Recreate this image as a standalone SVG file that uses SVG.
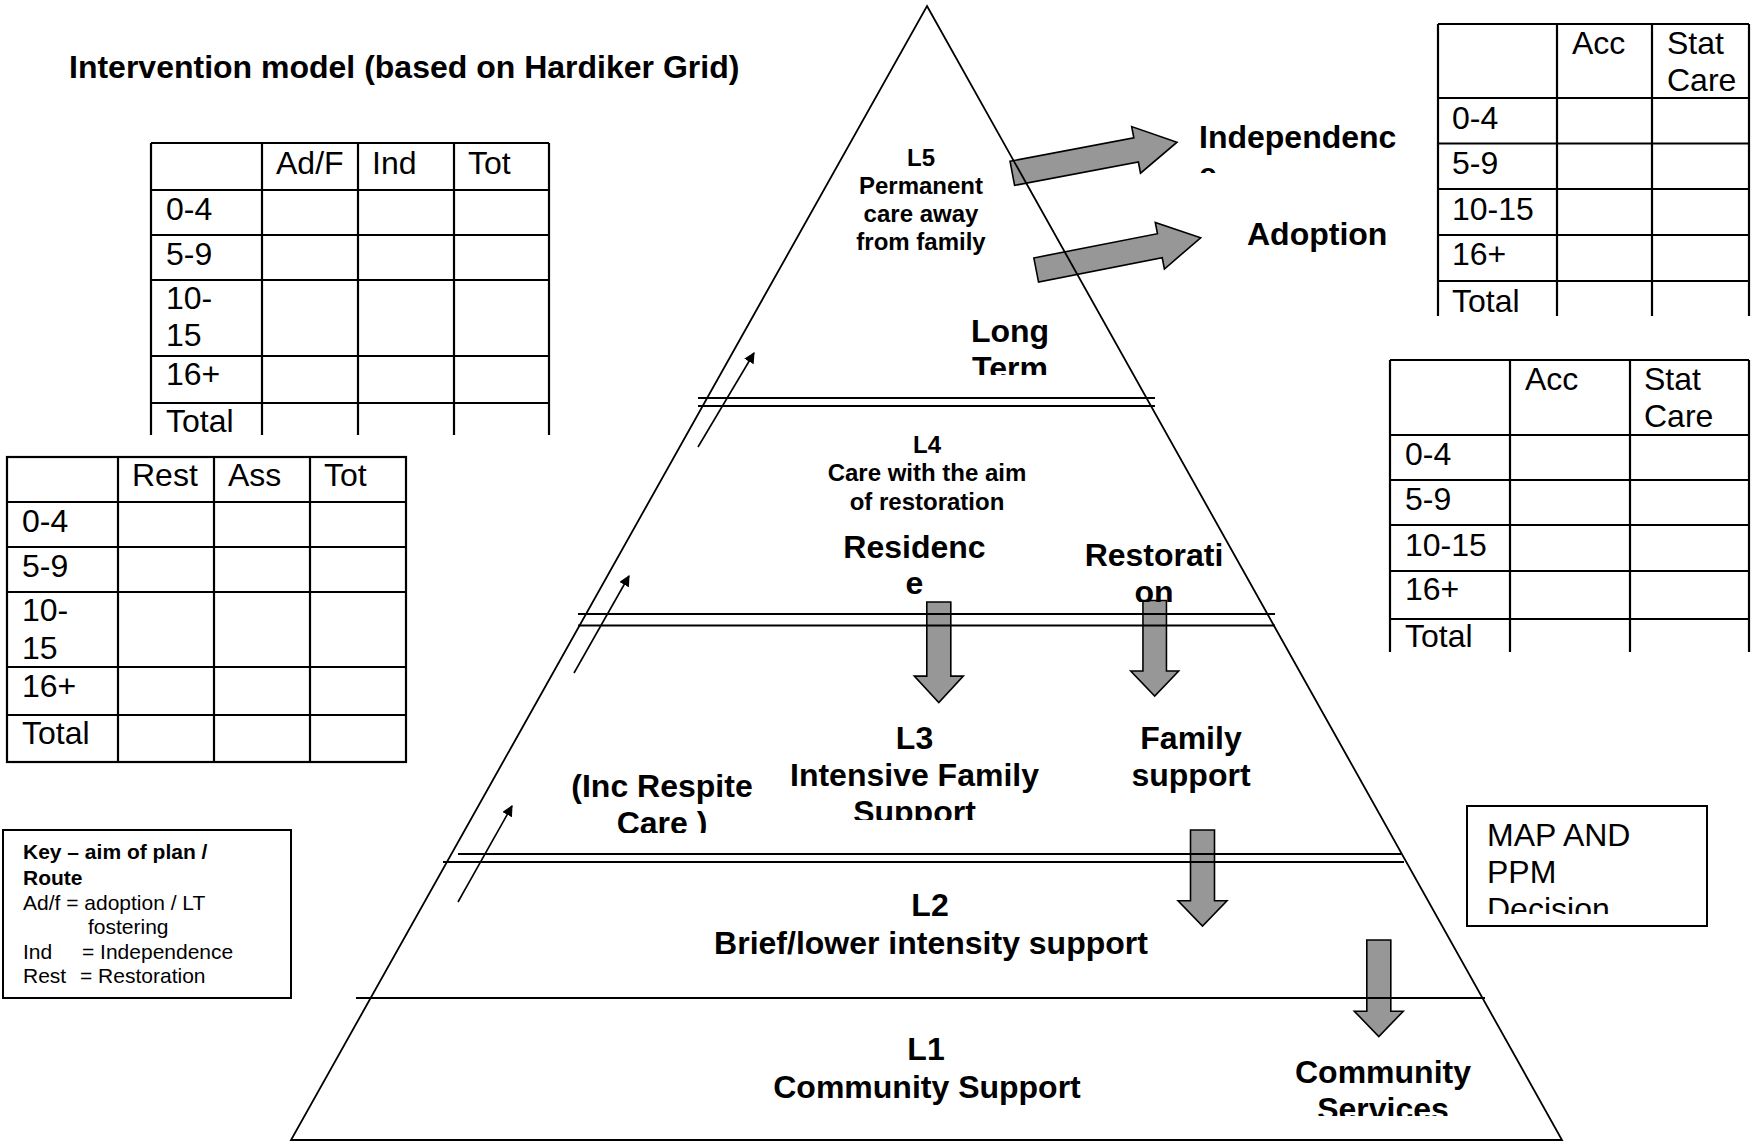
<svg xmlns="http://www.w3.org/2000/svg" width="1754" height="1144" viewBox="0 0 1754 1144">
  <style>
    text { font-family: "Liberation Sans", Arial, Helvetica, sans-serif; fill: #000; }
    .big { font-size: 32px; }
    .mid { font-size: 24px; font-weight: bold; }
    .key { font-size: 21px; }
    .b { font-weight: bold; }
    .c { text-anchor: middle; }
    .grid { stroke: #000; stroke-width: 2.2; fill: none; }
    .box { stroke: #000; stroke-width: 2; fill: #fff; }
    .edge { stroke: #000; stroke-width: 1.8; fill: none; }
    .level { stroke: #000; stroke-width: 2; }
    .route { stroke: #000; stroke-width: 1.6; fill: none; marker-end: url(#tip); }
    .block { fill: #979797; stroke: #000; stroke-width: 1.6; stroke-linejoin: miter; }
  </style>
  <defs>
    <marker id="tip" viewBox="0 0 10 10" refX="9" refY="5" markerWidth="11" markerHeight="11" markerUnits="userSpaceOnUse" orient="auto">
      <path d="M0,0 L10,5 L0,10 Z" fill="#000"/>
    </marker>
    <!-- wide block arrow pointing right, origin at tail centre -->
    <path id="sideArrow" d="M0,-12.3 L126,-12.3 L126,-23.7 L167.6,0 L126,23.7 L126,12.3 L0,12.3 Z"/>
    <!-- block arrow pointing down, origin at top centre of shaft -->
    <path id="downArrow" d="M-12,0 L12,0 L12,73 L24.5,73 L0,99 L-24.5,73 L-12,73 Z"/>
    <clipPath id="clipIndep"><rect x="1190" y="100" width="240" height="73"/></clipPath>
    <clipPath id="clipLong"><rect x="940" y="300" width="140" height="75"/></clipPath>
    <clipPath id="clipRestor"><rect x="1070" y="520" width="170" height="82"/></clipPath>
    <clipPath id="clipL3"><rect x="770" y="720" width="290" height="100"/></clipPath>
    <clipPath id="clipRespite"><rect x="560" y="760" width="210" height="73"/></clipPath>
    <clipPath id="clipComm"><rect x="1280" y="1050" width="210" height="66"/></clipPath>
    <clipPath id="clipMap"><rect x="1470" y="810" width="230" height="104"/></clipPath>
    <clipPath id="clipT1"><rect x="140" y="130" width="420" height="305"/></clipPath>
    <clipPath id="clipT3"><rect x="1430" y="15" width="324" height="301"/></clipPath>
    <clipPath id="clipT4"><rect x="1380" y="350" width="374" height="302"/></clipPath>
  </defs>

  <rect x="0" y="0" width="1754" height="1144" fill="#fff"/>

  <g id="title">
    <text class="big b" x="69" y="78">Intervention model (based on Hardiker Grid)</text>
  </g>

  <!-- Long-term outcomes table -->
  <g id="table-longterm">
    <g class="grid">
      <path d="M151,143 H549 M151,190 H549 M151,235 H549 M151,280 H549 M151,356 H549 M151,403 H549"/>
      <path d="M151,143 V435 M262,143 V435 M358,143 V435 M454,143 V435 M549,143 V435"/>
    </g>
    <g class="big" clip-path="url(#clipT1)">
      <text x="276" y="174">Ad/F</text>
      <text x="372" y="174">Ind</text>
      <text x="468" y="174">Tot</text>
      <text x="166" y="220">0-4</text>
      <text x="166" y="265">5-9</text>
      <text x="166" y="309">10-</text>
      <text x="166" y="346">15</text>
      <text x="166" y="385">16+</text>
      <text x="166" y="432">Total</text>
    </g>
  </g>

  <!-- Restoration table -->
  <g id="table-restoration">
    <g class="grid">
      <rect x="7" y="457" width="399" height="305"/>
      <path d="M7,502 H406 M7,547 H406 M7,592 H406 M7,667 H406 M7,715 H406"/>
      <path d="M118,457 V762 M214,457 V762 M310,457 V762"/>
    </g>
    <g class="big">
      <text x="132" y="486">Rest</text>
      <text x="228" y="486">Ass</text>
      <text x="324" y="486">Tot</text>
      <text x="22" y="532">0-4</text>
      <text x="22" y="577">5-9</text>
      <text x="22" y="621">10-</text>
      <text x="22" y="659">15</text>
      <text x="22" y="697">16+</text>
      <text x="22" y="744">Total</text>
    </g>
  </g>

  <!-- Accommodation table, upper -->
  <g id="table-acc-upper">
    <g class="grid">
      <path d="M1438,24 H1749 M1438,98 H1749 M1438,143.5 H1749 M1438,189 H1749 M1438,235 H1749 M1438,281 H1749"/>
      <path d="M1438,24 V316 M1557,24 V316 M1652,24 V316 M1749,24 V316"/>
    </g>
    <g class="big" clip-path="url(#clipT3)">
      <text x="1572" y="54">Acc</text>
      <text x="1667" y="54">Stat</text>
      <text x="1667" y="91">Care</text>
      <text x="1452" y="129">0-4</text>
      <text x="1452" y="174">5-9</text>
      <text x="1452" y="220">10-15</text>
      <text x="1452" y="265">16+</text>
      <text x="1452" y="312">Total</text>
    </g>
  </g>

  <!-- Accommodation table, lower -->
  <g id="table-acc-lower">
    <g class="grid">
      <path d="M1390,360 H1749 M1390,435 H1749 M1390,480 H1749 M1390,525 H1749 M1390,571 H1749 M1390,619 H1749"/>
      <path d="M1390,360 V652 M1510,360 V652 M1630,360 V652 M1749,360 V652"/>
    </g>
    <g class="big" clip-path="url(#clipT4)">
      <text x="1525" y="390">Acc</text>
      <text x="1644" y="390">Stat</text>
      <text x="1644" y="427">Care</text>
      <text x="1405" y="465">0-4</text>
      <text x="1405" y="510">5-9</text>
      <text x="1405" y="556">10-15</text>
      <text x="1405" y="600">16+</text>
      <text x="1405" y="647">Total</text>
    </g>
  </g>

  <!-- Key -->
  <g id="key">
    <rect class="box" x="3" y="830" width="288" height="168"/>
    <g class="key">
      <text class="b" x="23" y="859">Key – aim of plan /</text>
      <text class="b" x="23" y="885">Route</text>
      <text x="23" y="910">Ad/f = adoption / LT</text>
      <text x="88" y="934">fostering</text>
      <text x="23" y="959">Ind</text>
      <text x="82" y="959">= Independence</text>
      <text x="23" y="983">Rest</text>
      <text x="80" y="983">= Restoration</text>
    </g>
  </g>

  <!-- Decision box -->
  <g id="decision">
    <rect class="box" x="1467" y="806" width="240" height="120"/>
    <g class="big" clip-path="url(#clipMap)">
      <text x="1487" y="846">MAP AND</text>
      <text x="1487" y="883">PPM</text>
      <text x="1487" y="920">Decision</text>
    </g>
  </g>

  <!-- Block arrows showing routes out of / down the levels -->
  <g id="block-arrows">
    <use href="#sideArrow" class="block" transform="translate(1012.3,173.3) rotate(-10.7)"/>
    <use href="#sideArrow" class="block" transform="translate(1036.2,270) rotate(-11.1)"/>
    <use href="#downArrow" class="block" transform="translate(938.8,602) scale(1,1.015)"/>
    <use href="#downArrow" class="block" transform="translate(1154.7,600.5) scale(0.98,0.965)"/>
    <use href="#downArrow" class="block" transform="translate(1202.5,830) scale(1,0.97)"/>
    <use href="#downArrow" class="block" transform="translate(1378.8,940) scale(1,0.975)"/>
  </g>

  <!-- Pyramid outline and level boundaries -->
  <g id="pyramid">
    <polygon class="edge" points="927,6 1562,1140 291,1140"/>
    <path class="level" d="M698,398 H1155 M698,406 H1155"/>
    <path class="level" d="M578,614 H1275 M578,625.5 H1275"/>
    <path class="level" d="M458,854 H1401 M443,862 H1404"/>
    <path class="level" d="M356,998 H1485"/>
  </g>

  <!-- Step-up routes along the left side -->
  <g id="connectors">
    <line class="route" x1="698" y1="447" x2="754" y2="353"/>
    <line class="route" x1="574" y1="673" x2="629" y2="576"/>
    <line class="route" x1="458" y1="902" x2="512" y2="806"/>
  </g>

  <g id="level-5">
    <text class="mid c" x="921" y="166">L5</text>
    <text class="mid c" x="921" y="194">Permanent</text>
    <text class="mid c" x="921" y="222">care away</text>
    <text class="mid c" x="921" y="250">from family</text>
  </g>
  <g id="long-term" clip-path="url(#clipLong)">
    <text class="big b c" x="1010" y="342">Long</text>
    <text class="big b c" x="1010" y="379">Term</text>
  </g>
  <g id="independence" clip-path="url(#clipIndep)">
    <text class="big b" x="1199" y="148">Independenc</text>
    <text class="big b" x="1199" y="185">e</text>
  </g>
  <g id="adoption">
    <text class="big b" x="1247" y="245">Adoption</text>
  </g>

  <g id="level-4">
    <text class="mid c" x="927" y="453">L4</text>
    <text class="mid c" x="927" y="481">Care with the aim</text>
    <text class="mid c" x="927" y="510">of restoration</text>
  </g>
  <g id="residence">
    <text class="big b c" x="914.5" y="558">Residenc</text>
    <text class="big b c" x="914.5" y="594">e</text>
  </g>
  <g id="restoration" clip-path="url(#clipRestor)">
    <text class="big b c" x="1154" y="566">Restorati</text>
    <text class="big b c" x="1154" y="603">on</text>
  </g>

  <g id="level-3" clip-path="url(#clipL3)">
    <text class="big b c" x="914.5" y="749">L3</text>
    <text class="big b c" x="914.5" y="786">Intensive Family</text>
    <text class="big b c" x="914.5" y="823">Support</text>
  </g>
  <g id="family-support">
    <text class="big b c" x="1191" y="749">Family</text>
    <text class="big b c" x="1191" y="786">support</text>
  </g>
  <g id="respite" clip-path="url(#clipRespite)">
    <text class="big b c" x="662" y="797">(Inc Respite</text>
    <text class="big b c" x="662" y="834">Care )</text>
  </g>

  <g id="level-2">
    <text class="big b c" x="930" y="916">L2</text>
    <text class="big b c" x="931" y="954">Brief/lower intensity support</text>
  </g>

  <g id="level-1">
    <text class="big b c" x="926" y="1060">L1</text>
    <text class="big b c" x="927" y="1098">Community Support</text>
  </g>
  <g id="community-services" clip-path="url(#clipComm)">
    <text class="big b c" x="1383" y="1083">Community</text>
    <text class="big b c" x="1383" y="1120">Services</text>
  </g>
</svg>
